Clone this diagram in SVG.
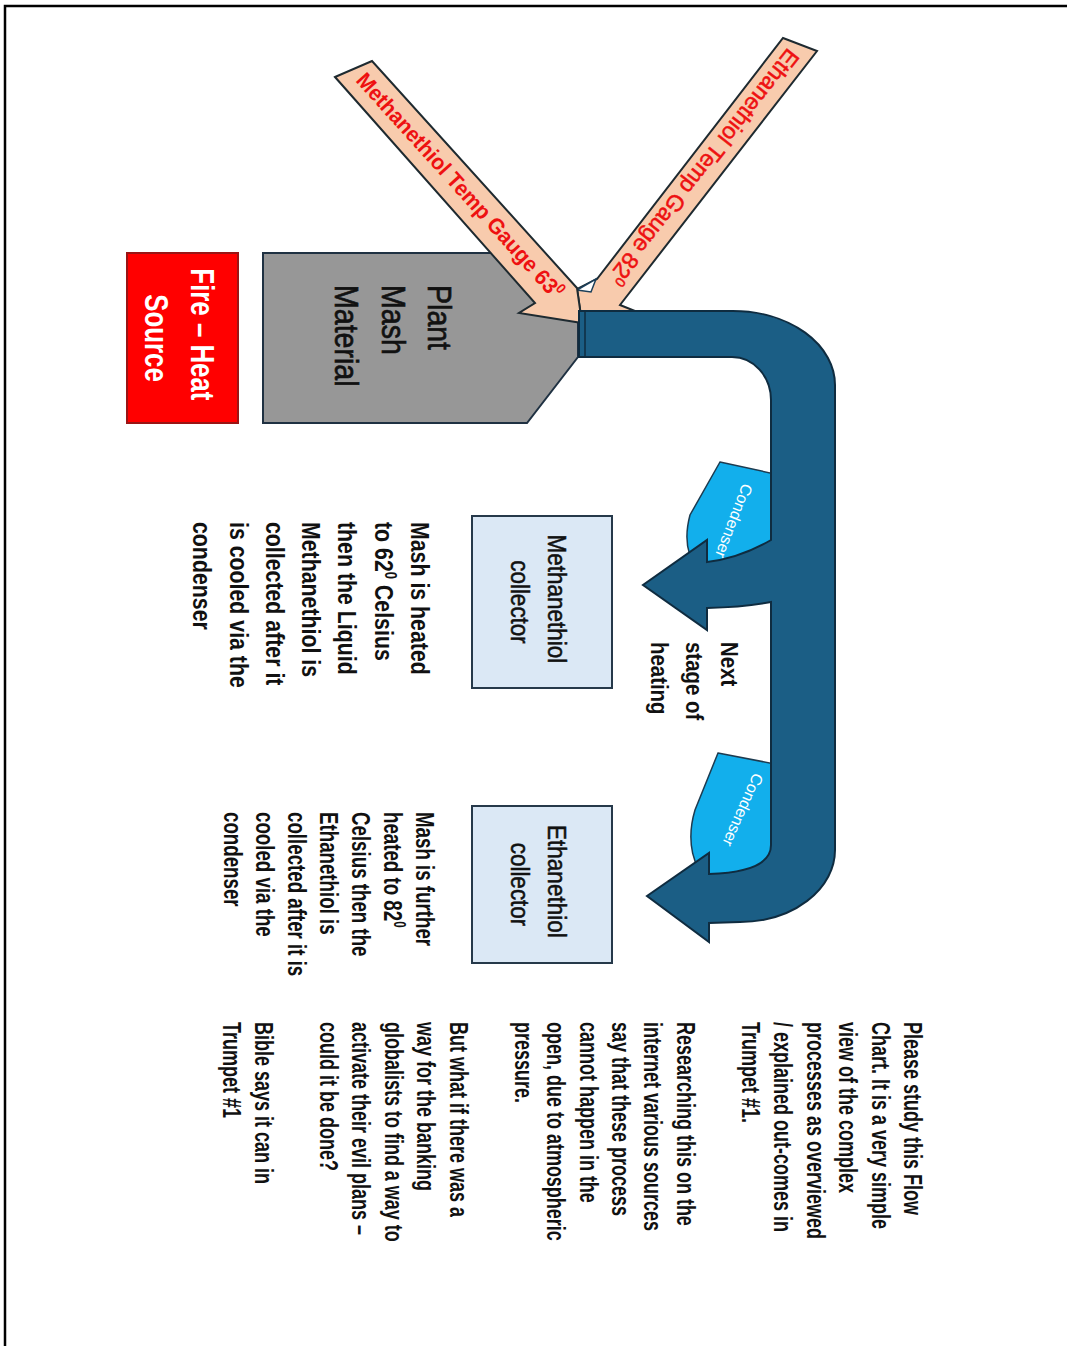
<svg xmlns="http://www.w3.org/2000/svg" width="1067" height="1346" viewBox="0 0 1067 1346">
<style>
  text { font-family: "Liberation Sans", Arial, sans-serif; }
  .frame { fill: none; stroke: #000; stroke-width: 2.5; }
  .fire { fill: #ff0000; stroke: #9a1515; stroke-width: 2; }
  .fire-t { fill: #ffffff; font-size: 34px; font-weight: bold; text-anchor: middle; }
  .mash { fill: #979797; stroke: #1f3142; stroke-width: 2; }
  .mash-t { fill: #111; font-size: 34px; stroke: #111; stroke-width: 0.7; }
  .gauge { fill: #f8cbad; stroke: #1e2a30; stroke-width: 2; stroke-linejoin: miter; }
  .gauge-t { fill: #ee1111; }
  .pipe { fill: #1b5e85; stroke: #0f2c40; stroke-width: 2; stroke-linejoin: miter; }
  .cond { fill: #12afec; stroke: #1d3b50; stroke-width: 1.5; }
  .cond-t { fill: #ffffff; font-size: 16px; text-anchor: middle; }
  .box { fill: #dbe8f5; stroke: #26394a; stroke-width: 2; }
  .box-t { fill: #111; font-size: 25px; text-anchor: middle; stroke: #111; stroke-width: 0.5; }
  .note { fill: #111; font-weight: bold; }
</style>

<g id="frame"><path class="frame" d="M5,1346 L5,6 L1067,6"/></g>

<g id="fire-heat-source">
  <rect class="fire" x="127" y="253" width="111" height="170"/>
  <text class="fire-t" transform="translate(191,338) rotate(90) scale(0.76,1)">
    <tspan x="0" y="0">Fire – Heat</tspan>
    <tspan x="0" y="46">Source</tspan>
  </text>
</g>

<g id="plant-mash-material">
  <polygon class="mash" points="263,253 527,253 578,319 578,357 527,423 263,423"/>
  <text class="mash-t" transform="translate(428,285) rotate(90) scale(0.84,1)">
    <tspan x="0" y="0">Plant</tspan>
    <tspan x="0" y="46.5">Mash</tspan>
    <tspan x="0" y="93">Material</tspan>
  </text>
</g>

<g id="condenser-1">
  <path class="cond" d="M720,462 L775,474 L775,580 L712,580 C690,570 682,545 690,515 Z"/>
</g>
<g id="condenser-2">
  <path class="cond" d="M718,753 L775,764 L775,885 L712,885 C692,870 686,840 695,810 Z"/>
</g>

<g id="connectors">
  <g id="ethanethiol-gauge">
    <polygon class="gauge" points="783,38 817,51 620,305 635,311 582,323 577,289 597,279"/>
    <polygon points="577,290 596,279 591,292" fill="#ffffff" stroke="#1b3f5a" stroke-width="1.5"/>
    <text class="gauge-t" font-size="23" stroke="#ee1111" stroke-width="0.5" transform="translate(788,47) rotate(128.2)">Ethanethiol Temp Gauge 82<tspan font-size="14" dy="-9">0</tspan></text>
  </g>
  <g id="methanethiol-gauge">
    <polygon class="gauge" points="335,77 372,61 577,288 582,323 519,313 535,303"/>
    <text class="gauge-t" font-size="22" font-weight="bold" transform="translate(355,81) rotate(47.9) scale(0.95,1)">Methanethiol Temp Gauge 63<tspan font-size="14" dy="-9">0</tspan></text>
  </g>
  <g id="pipe">
    <path class="pipe" d="M579,311 L733,311 A102,74 0 0 1 835,385 L835,850 A95,72 0 0 1 740,922 L709,923 L709,942 L647,896 L709,853 L709,874 Q771,872 771,845 L771,602 Q745,607 707,608 L707,630 L643,585 L707,540 L707,562 Q740,558 771,540 L771,400 A39,43 0 0 0 732,357 L579,357 Z"/>
    <line x1="585" y1="312" x2="585" y2="356" stroke="#0f2c40" stroke-width="1.5"/>
  </g>
</g>

<g id="condenser-labels">
  <text class="cond-t" transform="translate(734,521) rotate(111)" dy="0.35em">Condenser</text>
  <text class="cond-t" transform="translate(743,810) rotate(114)" dy="0.35em">Condenser</text>
</g>

<g id="methanethiol-collector">
  <rect class="box" x="472" y="516" width="140" height="172"/>
  <text class="box-t" transform="translate(548,602) rotate(90) scale(0.9,1)">
    <tspan x="0" y="0">Methanethiol</tspan>
    <tspan x="0" y="37">collector</tspan>
  </text>
</g>

<g id="ethanethiol-collector">
  <rect class="box" x="472" y="806" width="140" height="157"/>
  <text class="box-t" transform="translate(548,884.5) rotate(90) scale(0.9,1)">
    <tspan x="0" y="0">Ethanethiol</tspan>
    <tspan x="0" y="37">collector</tspan>
  </text>
</g>

<g id="next-stage-label">
  <text class="note" font-size="24" transform="translate(721,642) rotate(90) scale(0.85,1)">
    <tspan x="0" y="0">Next</tspan>
    <tspan x="0" y="35">stage of</tspan>
    <tspan x="0" y="70">heating</tspan>
  </text>
</g>

<g id="methanethiol-note">
  <text class="note" font-size="26" transform="translate(411,522) rotate(90) scale(0.82,1)">
    <tspan x="0" y="0">Mash is heated</tspan>
    <tspan x="0" y="36.3">to 62<tspan font-size="16" dy="-10">0</tspan><tspan dy="10"> Celsius</tspan></tspan>
    <tspan x="0" y="72.6">then the Liquid</tspan>
    <tspan x="0" y="108.9">Methanethiol is</tspan>
    <tspan x="0" y="145.2">collected after it</tspan>
    <tspan x="0" y="181.5">is cooled via the</tspan>
    <tspan x="0" y="217.8">condenser</tspan>
  </text>
</g>

<g id="ethanethiol-note">
  <text class="note" font-size="26" transform="translate(416,812) rotate(90) scale(0.72,1)">
    <tspan x="0" y="0">Mash is further</tspan>
    <tspan x="0" y="32">heated to 82<tspan font-size="16" dy="-10">0</tspan></tspan>
    <tspan x="0" y="64">Celsius then the</tspan>
    <tspan x="0" y="96">Ethanethiol is</tspan>
    <tspan x="0" y="128">collected after it is</tspan>
    <tspan x="0" y="160">cooled via the</tspan>
    <tspan x="0" y="192">condenser</tspan>
  </text>
</g>

<g id="commentary">
  <text class="note" font-size="25" transform="translate(904,1022) rotate(90) scale(0.72,1)">
    <tspan x="0" y="0">Please study this Flow</tspan>
    <tspan x="0" y="32.45">Chart. It is a very simple</tspan>
    <tspan x="0" y="64.9">view of the complex</tspan>
    <tspan x="0" y="97.35">processes as overviewed</tspan>
    <tspan x="0" y="129.8">/ explained out-comes in</tspan>
    <tspan x="0" y="162.25">Trumpet #1.</tspan>
    <tspan x="0" y="227.15">Researching this on the</tspan>
    <tspan x="0" y="259.6">internet various sources</tspan>
    <tspan x="0" y="292.05">say that these process</tspan>
    <tspan x="0" y="324.5">cannot happen in the</tspan>
    <tspan x="0" y="356.95">open, due to atmospheric</tspan>
    <tspan x="0" y="389.4">pressure.</tspan>
    <tspan x="0" y="454.3">But what if there was a</tspan>
    <tspan x="0" y="486.75">way for the banking</tspan>
    <tspan x="0" y="519.2">globalists to find a way to</tspan>
    <tspan x="0" y="551.65">activate their evil plans –</tspan>
    <tspan x="0" y="584.1">could it be done?</tspan>
    <tspan x="0" y="649">Bible says it can in</tspan>
    <tspan x="0" y="681.45">Trumpet #1</tspan>
  </text>
</g>
</svg>
